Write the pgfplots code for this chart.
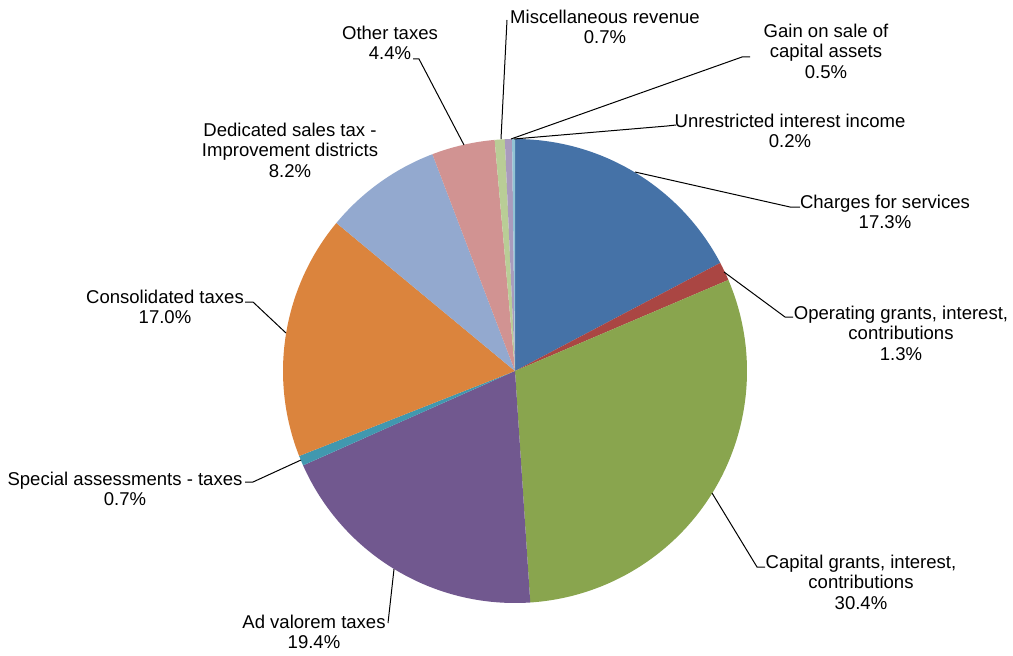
\documentclass[border=0pt]{standalone}
\usepackage{pgfplots}
\usepackage{pgfplotstable}
\pgfplotsset{compat=1.18}
\usepackage{fontspec}
\setmainfont{Liberation Sans}
\definecolor{c0}{HTML}{4572A7}
\definecolor{c1}{HTML}{AA4643}
\definecolor{c2}{HTML}{89A54E}
\definecolor{c3}{HTML}{71588F}
\definecolor{c4}{HTML}{4198AF}
\definecolor{c5}{HTML}{DB843D}
\definecolor{c6}{HTML}{93A9CF}
\definecolor{c7}{HTML}{D19392}
\definecolor{c8}{HTML}{B9CD96}
\definecolor{c9}{HTML}{A99BBD}
\definecolor{c10}{HTML}{92C3D4}
% shares in percent, clockwise from 12 o'clock
\pgfplotstableread{
share
17.3
1.3
30.4
19.4
0.7
17.0
8.2
4.4
0.7
0.5
0.2
}\piedata
\begin{document}
\begin{tikzpicture}[lbl/.style={font=\fontsize{13.9}{15.4}\selectfont, align=center, inner sep=0pt}]
\gdef\cum{0}
\pgfplotstableforeachcolumnelement{share}\of\piedata\as\v{%
  \pgfmathsetmacro\tmp{\cum+\v}\xdef\cum{\tmp}}
\xdef\total{\cum}
\gdef\cum{0}
\pgfplotstableforeachcolumnelement{share}\of\piedata\as\v{%
  \pgfmathsetmacro\sa{90-(\cum/\total)*360}%
  \pgfmathsetmacro\tmp{\cum+\v}\xdef\cum{\tmp}%
  \pgfmathsetmacro\sb{90-(\cum/\total)*360}%
  \expandafter\xdef\csname pieA\pgfplotstablerow\endcsname{\sa}%
  \expandafter\xdef\csname pieB\pgfplotstablerow\endcsname{\sb}%
}
\begin{axis}[
  name=ax,
  width=759.75pt, height=492pt, scale only axis,
  xmin=0, xmax=1013, ymin=0, ymax=656, y dir=reverse,
  hide axis, clip=false,
]
\pgfplotsinvokeforeach{0,...,10}{
  \fill[c#1] (axis cs:515,371) -- ++(\csname pieA#1\endcsname:174pt)
    arc[start angle=\csname pieA#1\endcsname, end angle=\csname pieB#1\endcsname, radius=174pt] -- cycle;
}
% leader lines
\draw[black, line width=0.75pt] (axis cs:413,59) -- (axis cs:419,59) -- (axis cs:464,145);
\draw[black, line width=0.75pt] (axis cs:507,20) -- (axis cs:501,139);
\draw[black, line width=0.75pt] (axis cs:750,57) -- (axis cs:742,57) -- (axis cs:511,139);
\draw[black, line width=0.75pt] (axis cs:676,125) -- (axis cs:667,126) -- (axis cs:514,139);
\draw[black, line width=0.75pt] (axis cs:800,207) -- (axis cs:790,207) -- (axis cs:635,172);
\draw[black, line width=0.75pt] (axis cs:793,317) -- (axis cs:785,317) -- (axis cs:724,272);
\draw[black, line width=0.75pt] (axis cs:765,567) -- (axis cs:757,567) -- (axis cs:712,493);
\draw[black, line width=0.75pt] (axis cs:388,623) -- (axis cs:394,569);
\draw[black, line width=0.75pt] (axis cs:245,482) -- (axis cs:253,482) -- (axis cs:301,460);
\draw[black, line width=0.75pt] (axis cs:245,302) -- (axis cs:253,302) -- (axis cs:286,333);
% labels
\node[lbl] at (axis cs:390,43) {Other taxes\\4.4\%};
\node[lbl] at (axis cs:605,27) {Miscellaneous revenue\\0.7\%};
\node[lbl] at (axis cs:826,51) {Gain on sale of\\capital assets\\0.5\%};
\node[lbl] at (axis cs:790,131) {Unrestricted interest income\\0.2\%};
\node[lbl] at (axis cs:885,212) {Charges for services\\17.3\%};
\node[lbl] at (axis cs:901,333) {Operating grants, interest,\\contributions\\1.3\%};
\node[lbl] at (axis cs:861,582) {Capital grants, interest,\\contributions\\30.4\%};
\node[lbl] at (axis cs:314,632) {Ad valorem taxes\\19.4\%};
\node[lbl] at (axis cs:125,489) {Special assessments - taxes\\0.7\%};
\node[lbl] at (axis cs:165,307) {Consolidated taxes\\17.0\%};
\node[lbl] at (axis cs:290,150) {Dedicated sales tax -\\Improvement districts\\8.2\%};
\end{axis}
\pgfresetboundingbox
\path (ax.south west) rectangle (ax.north east);
\end{tikzpicture}
\end{document}
